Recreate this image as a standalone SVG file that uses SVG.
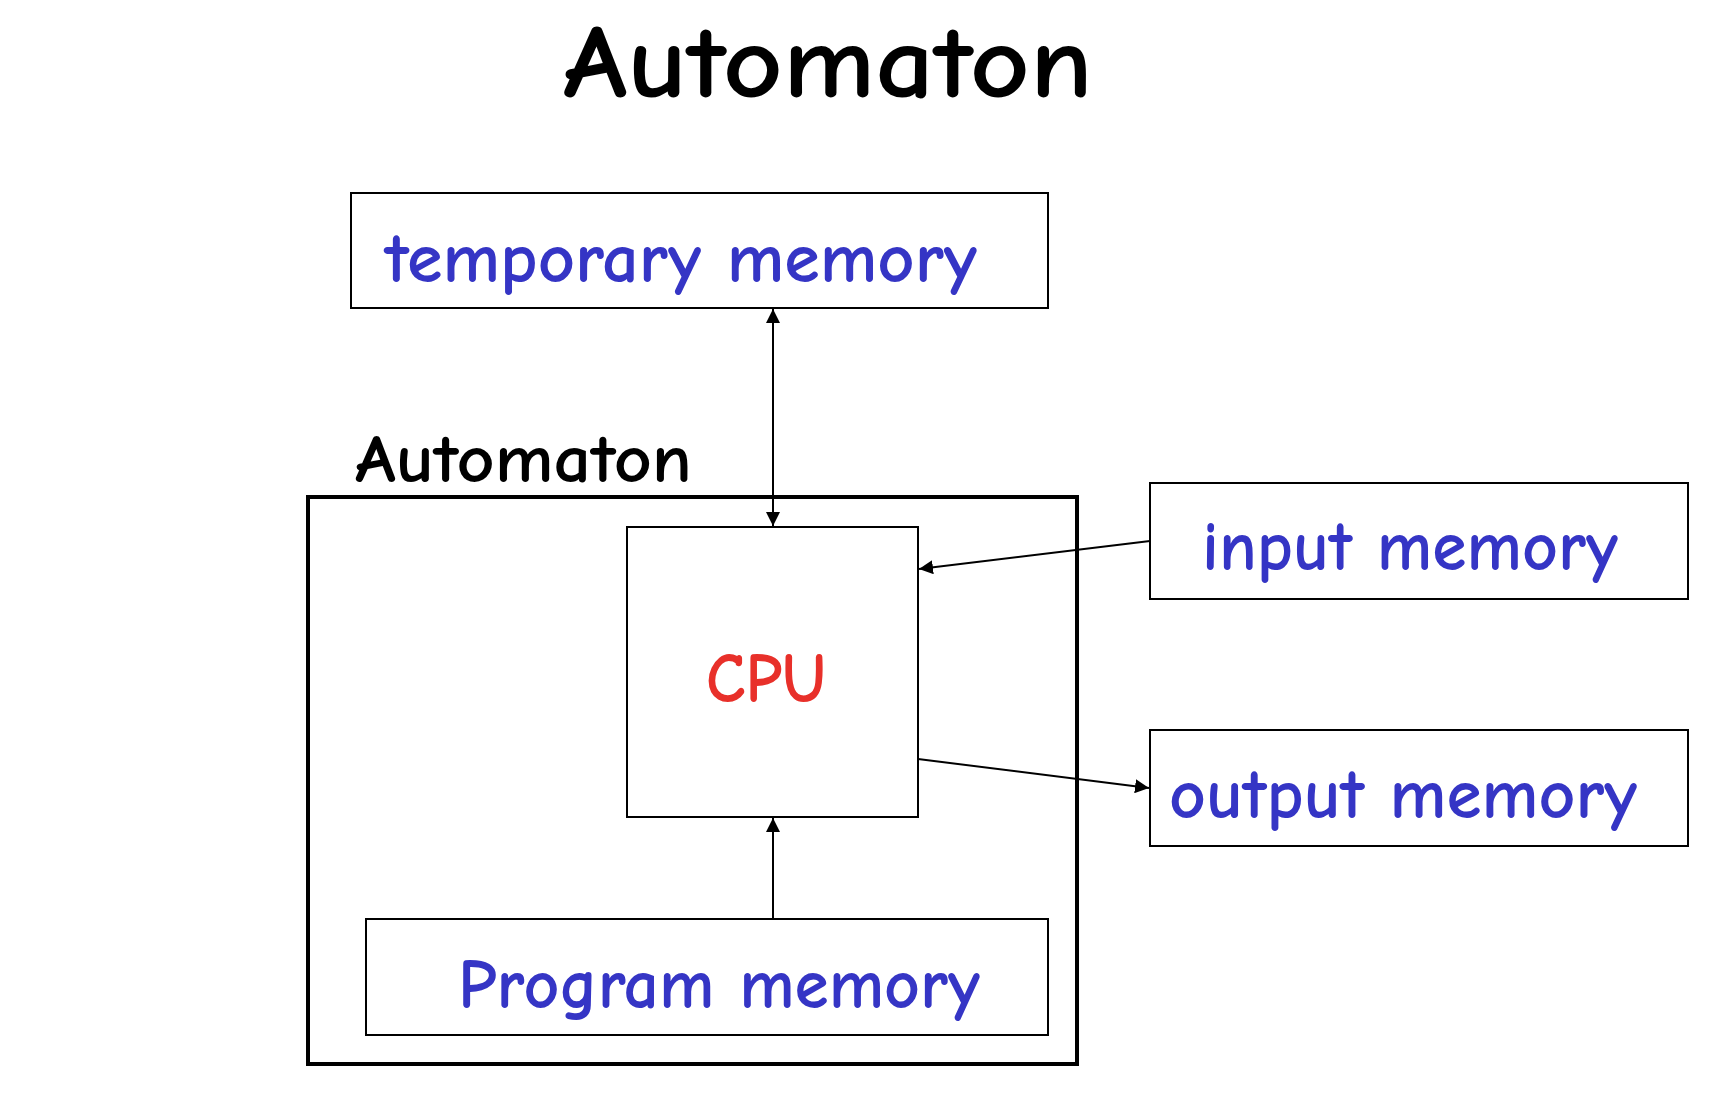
<svg xmlns="http://www.w3.org/2000/svg" width="1716" height="1110" viewBox="0 0 1716 1110">
<style>
.box{fill:#fff;stroke:#000;stroke-width:2}
.lbl{font-family:"Comic Neue","Liberation Sans",Arial,sans-serif;font-weight:bold;fill:#3535c5;font-size:70px}
.blk{font-family:"Comic Neue","Liberation Sans",Arial,sans-serif;font-weight:bold;fill:#000}
.con{stroke:#000;stroke-width:2;fill:none}
</style>
<defs>
<marker id="ah" viewBox="0 0 14 14" refX="14" refY="7" markerWidth="14" markerHeight="14" markerUnits="userSpaceOnUse" orient="auto-start-reverse">
<path d="M0,0 L14,7 L0,14 Z" fill="#000"/>
</marker>
</defs>
<rect width="1716" height="1110" fill="#fff"/>
<g id="title"><text class="blk" x="563" y="97" font-size="104" textLength="530" lengthAdjust="spacingAndGlyphs">Automaton</text></g>
<g id="automaton">
<rect x="308" y="497" width="769" height="567" fill="none" stroke="#000" stroke-width="4"/>
<text class="blk" x="355" y="482" font-size="68" textLength="337" lengthAdjust="spacingAndGlyphs">Automaton</text>
</g>
<g id="temporary-memory">
<rect class="box" x="351" y="193" width="697" height="115"/>
<text class="lbl" x="385" y="282" textLength="592" lengthAdjust="spacingAndGlyphs">temporary memory</text>
</g>
<g id="cpu">
<rect class="box" x="627" y="527" width="291" height="290"/>
<text x="706" y="702" font-family="'Comic Neue','Liberation Sans',Arial,sans-serif" font-weight="bold" font-size="70" fill="#e8302a" textLength="120" lengthAdjust="spacingAndGlyphs">CPU</text>
</g>
<g id="input-memory">
<rect class="box" x="1150" y="483" width="538" height="116"/>
<text class="lbl" x="1202" y="570" textLength="416" lengthAdjust="spacingAndGlyphs">input memory</text>
</g>
<g id="output-memory">
<rect class="box" x="1150" y="730" width="538" height="116"/>
<text class="lbl" x="1169" y="818" textLength="468" lengthAdjust="spacingAndGlyphs">output memory</text>
</g>
<g id="program-memory">
<rect class="box" x="366" y="919" width="682" height="116"/>
<text class="lbl" x="458" y="1008" textLength="522" lengthAdjust="spacingAndGlyphs">Program memory</text>
</g>
<g id="connectors">
<line class="con" x1="773" y1="309" x2="773" y2="526" marker-start="url(#ah)" marker-end="url(#ah)"/>
<line class="con" x1="1150" y1="541" x2="919" y2="569" marker-end="url(#ah)"/>
<line class="con" x1="918" y1="759" x2="1149" y2="788" marker-end="url(#ah)"/>
<line class="con" x1="773" y1="919" x2="773" y2="818" marker-end="url(#ah)"/>
</g>
</svg>
